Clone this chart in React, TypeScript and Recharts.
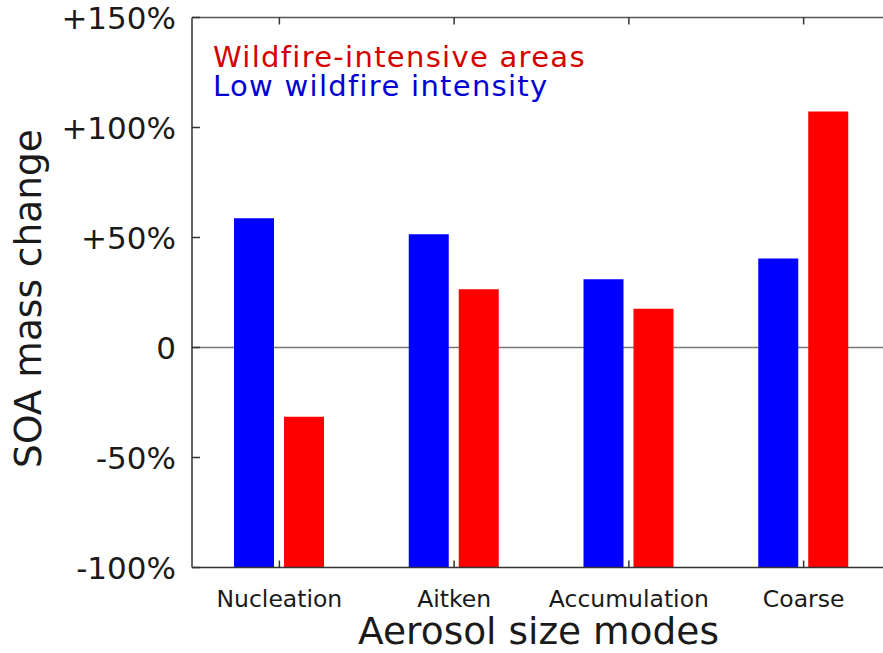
import {
  Bar,
  BarChart,
  CartesianGrid,
  Label,
  Legend,
  XAxis,
  YAxis,
} from 'recharts';

// aerosol size modes and % change in SOA mass
const modes = ['Nucleation', 'Aitken', 'Accumulation', 'Coarse'];
const lowIntensity = [58.7, 51.5, 31, 40.5];
const wildfireAreas = [-31.5, 26.5, 17.6, 107.3];
const yTicks = [-100, -50, 0, 50, 100, 150];
const legendItems = [
  { label: 'Wildfire-intensive areas', color: '#d40000' },
  { label: 'Low wildfire intensity', color: '#0000d4' },
];
const yTitle = 'SOA mass change';
const xTitle = 'Aerosol size modes';

const BASE = -100;
const FONT = 'DejaVu Sans';
const AXIS = '#333';
const TEXT = '#1a1a1a';

const data = modes.map((mode, i) => ({
  mode,
  low: lowIntensity[i],
  fire: wildfireAreas[i],
}));

const fmtPct = (v: number) => (v > 0 ? `+${v}%` : v === 0 ? '0' : `${v}%`);

const LeftTick = ({ x, y, payload }: any) => (
  <g>
    <line x1={x + 16} x2={x + 24} y1={y} y2={y} stroke={AXIS} strokeWidth={1.5} />
    <text x={x} y={y} dy="0.355em" textAnchor="end" fontFamily={FONT} fontSize={31} fill={TEXT}>
      {fmtPct(payload.value)}
    </text>
  </g>
);

const RightTick = ({ x, y }: any) => (
  <line x1={x} x2={x - 11} y1={y} y2={y} stroke={AXIS} strokeWidth={1.5} />
);

const BottomTick = ({ x, y, payload }: any) => (
  <g>
    <line x1={x} x2={x} y1={y - 23} y2={y - 30} stroke={AXIS} strokeWidth={1.5} />
    <text x={x} y={y} dy="0.71em" textAnchor="middle" fontFamily={FONT} fontSize={23.5} fill={TEXT}>
      {payload.value}
    </text>
  </g>
);

const TopTick = ({ x, y }: any) => (
  <line x1={x} x2={x} y1={y} y2={y + 7} stroke={AXIS} strokeWidth={1.5} />
);

const LegendBox = () => (
  <div
    style={{
      fontFamily: FONT,
      fontSize: 29,
      letterSpacing: 1.3,
      lineHeight: '29px',
      whiteSpace: 'nowrap',
    }}
  >
    {legendItems.map((item) => (
      <div key={item.label} style={{ color: item.color }}>
        {item.label}
      </div>
    ))}
  </div>
);

export default function App() {
  return (
    <div
      style={{
        position: 'absolute',
        left: 0,
        top: 0,
        width: 883,
        height: 653,
        overflow: 'hidden',
        background: '#fff',
      }}
    >
      <BarChart
        width={897}
        height={653}
        data={data}
        margin={{ top: 16.5, right: 5, bottom: 0, left: 0 }}
        barSize={40}
        barGap={10}
      >
        <CartesianGrid
          xAxisId="bottom"
          yAxisId="left"
          vertical={false}
          horizontalValues={[0]}
          stroke="#777"
          strokeWidth={1.5}
        />
        <XAxis
          xAxisId="bottom"
          dataKey="mode"
          height={85.5}
          interval={0}
          tickSize={0}
          tickMargin={23}
          tick={<BottomTick />}
          axisLine={{ stroke: AXIS, strokeWidth: 1.5 }}
        >
          <Label
            content={() => (
              <text x={538.5} y={644} textAnchor="middle" fontFamily={FONT} fontSize={37.5} fill={TEXT}>
                {xTitle}
              </text>
            )}
          />
        </XAxis>
        <XAxis
          xAxisId="top"
          orientation="top"
          dataKey="mode"
          height={1}
          interval={0}
          tickSize={0}
          tickMargin={0}
          tick={<TopTick />}
          axisLine={{ stroke: '#555', strokeWidth: 1.5 }}
        />
        <YAxis
          yAxisId="left"
          width={192}
          domain={[-100, 150]}
          ticks={yTicks}
          interval={0}
          tickSize={0}
          tickMargin={16}
          tick={<LeftTick />}
          axisLine={{ stroke: AXIS, strokeWidth: 1.5 }}
        >
          <Label
            content={() => (
              <text
                x={41}
                y={298.5}
                transform="rotate(-90 41 298.5)"
                textAnchor="middle"
                fontFamily={FONT}
                fontSize={37.5}
                fill={TEXT}
              >
                {yTitle}
              </text>
            )}
          />
        </YAxis>
        <YAxis
          yAxisId="right"
          orientation="right"
          width={1}
          domain={[-100, 150]}
          ticks={yTicks}
          interval={0}
          tickSize={0}
          tickMargin={0}
          tick={<RightTick />}
          axisLine={{ stroke: AXIS, strokeWidth: 1.5 }}
        />
        <Legend
          layout="vertical"
          verticalAlign="middle"
          align="center"
          content={<LegendBox />}
          wrapperStyle={{ top: 42.5, left: 213, width: 'auto' }}
        />
        <Bar
          xAxisId="bottom"
          yAxisId="left"
          dataKey={(d: any) => [BASE, d.low]}
          name="Low wildfire intensity"
          fill="#0000ff"
          isAnimationActive={false}
        />
        <Bar
          xAxisId="bottom"
          yAxisId="left"
          dataKey={(d: any) => [BASE, d.fire]}
          name="Wildfire-intensive areas"
          fill="#ff0000"
          isAnimationActive={false}
        />
      </BarChart>
    </div>
  );
}
